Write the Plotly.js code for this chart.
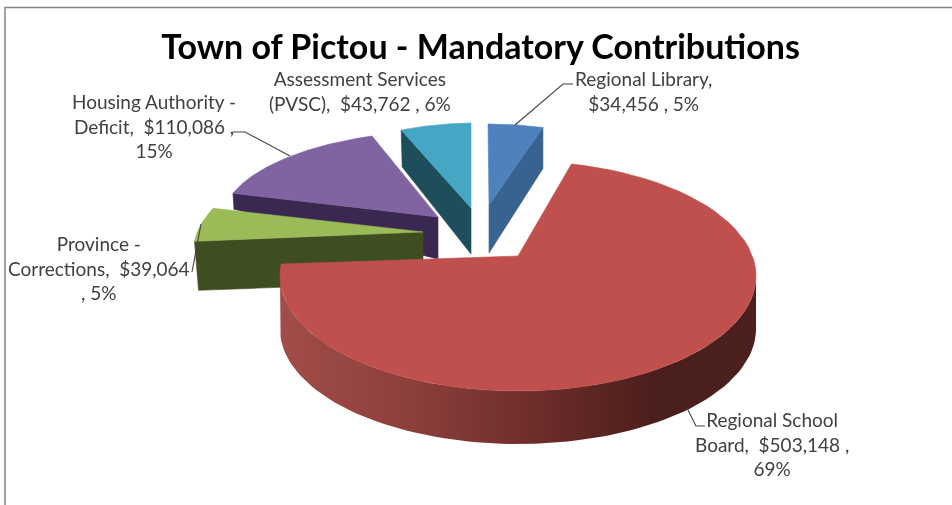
<!DOCTYPE html>
<html>
<head>
<meta charset="utf-8">
<script src="https://cdn.plot.ly/plotly-3.0.1.min.js"></script>
<style>html,body{margin:0;padding:0;background:#fff;overflow:hidden}#chart{width:952px;height:505px;filter:blur(0.45px)}</style>
</head>
<body>
<div id="chart"></div>
<script>
// ---- data (clockwise from 12 o'clock) ----
var categories = ["Regional Library", "Regional School Board", "Province - Corrections", "Housing Authority - Deficit", "Assessment Services (PVSC)"];
var amounts = [34456, 503148, 39064, 110086, 43762];
var percents = [5, 69, 5, 15, 6];
var labelLines = [
  ["Regional Library,", "{v} , {p}"],
  ["Regional School", "Board,  {v} ,", "{p}"],
  ["Province -", "Corrections,  {v}", ", {p}"],
  ["Housing Authority -", "Deficit,  {v} ,", "{p}"],
  ["Assessment Services", "(PVSC),  {v} , {p}"]
];
var titleText = "Town of Pictou - Mandatory Contributions";

// ---- styling and projection of each exploded wedge onto the page ----
var topColors = ["#4F81BD", "#BF504D", "#9BBB59", "#8064A2", "#45A7C4"];
var sideColors = ["#38628F", "#7A3330", "#3F4E20", "#3A2850", "#1E4D5C"];
var redSideScale = [[0, "#A24D4A"], [0.3, "#8A3D3A"], [0.55, "#6B2C2A"], [0.8, "#4A1E1B"], [1, "#4C201C"]];
var proj = [
  {cx: 489, cy: 205, rx: 188, ry: 81, sx: -1, sy: 0, tA: 48, tO: 41, dxO: 0, side: "end"},
  // da0/da1: perspective widens the big wedge's apparent sweep at both ends
  {cx: 518, cy: 276, rx: 238, ry: 115, sx: 0, sy: 0, tA: 53, tO: 53, dxO: 0, side: "arc", apex: [518, 256], da0: -4, da1: 11},
  {cx: 423, cy: 232, rx: 226, ry: 99, sx: 38, sy: -0.6, tA: 50, tO: 49, dxO: 4, side: "start"},
  {cx: 438, cy: 217, rx: 215, ry: 86, sx: 14, sy: 2.7, tA: 42, tO: 16, dxO: 1, side: "start"},
  {cx: 471, cy: 208, rx: 190, ry: 85, sx: 0, sy: -2.7, tA: 46, tO: 37, dxO: 1, side: "start"}
];
var labelPos = [[643, 91], [772, 444], [99, 268], [154, 126], [360, 91]];
var leaders = [
  [[573, 84], [563, 84], [515, 125]],
  [[705, 426], [696, 426], [687, 408]],
  [[201, 224], [192, 272]],
  [[233, 132], [245, 132], [290, 156]]
];

var total = amounts.reduce(function (a, b) { return a + b; }, 0);
var rad = Math.PI / 180;
function pt(g, deg) {
  var s = Math.sin(deg * rad), c = Math.cos(deg * rad);
  return [g.cx + g.rx * s + g.sx * c, g.cy - g.ry * c + g.sy * s];
}
function poly(points, color, extra) {
  var t = {
    type: "scatter", mode: "lines", hoverinfo: "skip", showlegend: false,
    x: points.map(function (p) { return p[0]; }).concat(points[0][0]),
    y: points.map(function (p) { return p[1]; }).concat(points[0][1]),
    fill: "toself", fillcolor: color, line: {width: 0.6, color: color}
  };
  for (var k in extra) t[k] = extra[k];
  return t;
}
var cum = 0, spans = amounts.map(function (v) {
  var a = cum; cum += v / total * 360; return [a, cum];
});
function buildSlice(i) {
  var g = proj[i], a0 = spans[i][0] + (g.da0 || 0), a1 = spans[i][1] + (g.da1 || 0);
  var apex = g.apex || [g.cx, g.cy];
  if (a0 > 180) { a0 -= 360; a1 -= 360; }
  var top = [apex], n = 80, k;
  for (k = 0; k <= n; k++) top.push(pt(g, a0 + (a1 - a0) * k / n));
  var traces = [];
  if (g.side === "arc") {
    var upper = [], lower = [], from = 90, to = 270;
    for (k = 0; k <= 90; k++) {
      var p = pt(g, from + (to - from) * k / 90);
      upper.push(p); lower.unshift([p[0], p[1] + g.tO]);
    }
    traces.push(poly(upper.concat(lower), sideColors[i], {
      fillgradient: {type: "horizontal", colorscale: redSideScale},
      line: {width: 0}
    }));
  } else {
    var o = pt(g, g.side === "end" ? a1 : a0);
    traces.push(poly([apex, o, [o[0] + g.dxO, o[1] + g.tO], [apex[0], apex[1] + g.tA]], sideColors[i]));
  }
  traces.push(poly(top, topColors[i]));
  return traces;
}
var data = [];
[4, 0, 3, 2, 1].forEach(function (i) { data = data.concat(buildSlice(i)); });

leaders.forEach(function (l) {
  data.push({
    type: "scatter", mode: "lines", hoverinfo: "skip", showlegend: false,
    x: l.map(function (p) { return p[0]; }), y: l.map(function (p) { return p[1]; }),
    line: {width: 1.1, color: "#454545"}
  });
});
// frame of the pasted chart: top and left edge only
data.push({
  type: "scatter", mode: "lines", hoverinfo: "skip", showlegend: false,
  x: [5, 5, 952], y: [505, 7.5, 7.5], line: {width: 1.5, color: "#858585"}
});

function money(v) { return "$" + v.toLocaleString("en-US"); }
var annotations = categories.map(function (c, i) {
  return {
    xref: "x", yref: "y", x: labelPos[i][0], y: labelPos[i][1],
    xanchor: "center", yanchor: "middle", align: "center", showarrow: false,
    text: labelLines[i].map(function (s) {
      return s.replace("{v}", money(amounts[i])).replace("{p}", percents[i] + "%");
    }).join("<br>"),
    font: {family: "Lato, 'Open Sans', sans-serif", size: 19, color: "#404040"}
  };
});

var layout = {
  width: 952, height: 505,
  margin: {l: 0, r: 0, t: 0, b: 0},
  paper_bgcolor: "#fff", plot_bgcolor: "#fff",
  title: {text: "<b>" + titleText + "</b>", x: 480.5 / 952, xanchor: "center", xref: "paper",
          y: 1 - 47 / 505, yanchor: "middle", yref: "container",
          font: {family: "Lato, 'Open Sans', sans-serif", size: 34, color: "#000"}},
  xaxis: {range: [0, 952], visible: false, fixedrange: true},
  yaxis: {range: [505, 0], visible: false, fixedrange: true},
  annotations: annotations,
  showlegend: false
};
Plotly.newPlot("chart", data, layout, {staticPlot: true, displayModeBar: false});
</script>
</body>
</html>
